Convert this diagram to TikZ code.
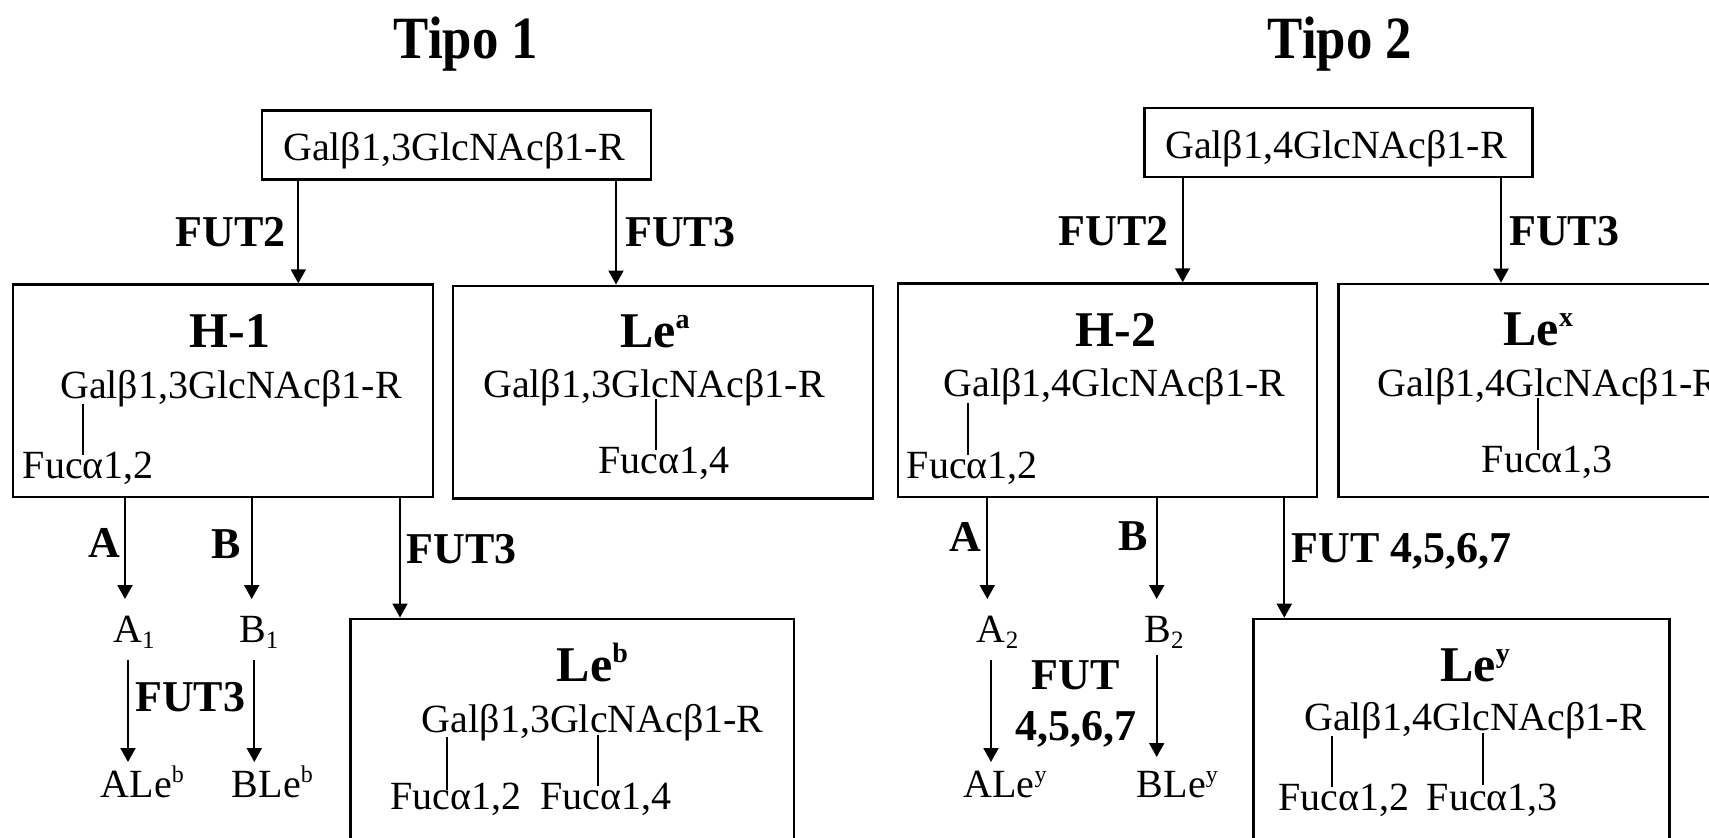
\documentclass[tikz,border=0pt]{standalone}
\usepackage{fontspec}
\setmainfont{Liberation Serif}
\usetikzlibrary{arrows.meta}
\newcommand\mysupT[1]{\raisebox{19pt}{\fontsize{28}{28}\selectfont #1}}
\newcommand\mysupR[1]{\raisebox{15pt}{\fontsize{24}{24}\selectfont #1}}
\newcommand\mysubR[1]{\raisebox{-6pt}{\fontsize{25}{25}\selectfont #1}}
\begin{document}
\begin{tikzpicture}[x=1pt,y=-1pt,
  box/.style={draw, line width=2.2pt, inner sep=0pt, anchor=north west},
  arr/.style={line width=2pt, -{Triangle[length=14pt,width=15pt]}},
  bond/.style={line width=2pt},
  reg/.style={inner sep=0pt, font=\fontsize{40}{44}\selectfont},
  lab/.style={inner sep=0pt, font=\bfseries\fontsize{44}{48}\selectfont},
  ttl/.style={inner sep=0pt, font=\bfseries\fontsize{50}{54}\selectfont},
  hdr/.style={inner sep=0pt, font=\bfseries\fontsize{60}{64}\selectfont, xscale=0.88}]
\useasboundingbox (0,0) rectangle (1709,838);

% ---------------- Tipo 1 ----------------
\node[hdr, anchor=base] (tipo1) at (466,58) {Tipo 1};
\node[box, minimum width=389.3pt, minimum height=69pt] (t1) at (260.7,109.3) {};
\node[reg, anchor=base west] (t1txt) at (283,160) {Galβ1,3GlcNAcβ1-R};

\node[box, minimum width=419.7pt, minimum height=212.7pt] (h1) at (12,283.3) {};
\node[box, minimum width=420pt, minimum height=212.8pt] (lea) at (451.7,284.5) {};
\node[box, minimum width=443.4pt, minimum height=300pt] (leb) at (349.3,617.5) {};

\coordinate (x1) at (298.3,0);
\coordinate (x2) at (616,0);
\coordinate (x3) at (400,0);
\draw[arr] (t1.south -| x1) -- (h1.north -| x1);
\draw[arr] (t1.south -| x2) -- (lea.north -| x2);
\node[lab, anchor=base east] (fut2a) at (286,246) {FUT2};
\node[lab, anchor=base west] (fut3a) at (625,246) {FUT3};

\node[ttl, anchor=base] (h1t) at (230,347) {H-1};
\node[reg, anchor=base west] (h1g) at (60,398) {Galβ1,3GlcNAcβ1-R};
\node[reg, anchor=base west] (h1f) at (22.7,478) {Fucα1,2};
\draw[bond] (83.3,404) -- (83.3,455);

\node[ttl, anchor=base west] (leat) at (620,347) {Le\mysupT{a}};
\node[reg, anchor=base west] (leag) at (483,397) {Galβ1,3GlcNAcβ1-R};
\node[reg, anchor=base west] (leaf) at (598,473) {Fucα1,4};
\draw[bond] (656,399) -- (656,450);

\coordinate (cA1) at (125,599);
\coordinate (cB1) at (251.7,599);
\draw[arr] (h1.south -| cA1) -- (cA1);
\draw[arr] (h1.south -| cB1) -- (cB1);
\draw[arr] (h1.south -| x3) -- (leb.north -| x3);
\node[lab, anchor=base east] (labA1) at (120,557) {A};
\node[lab, anchor=base east] (labB1) at (240.7,558) {B};
\node[lab, anchor=base west] (fut3b) at (406.7,563) {FUT3};

\node[reg, anchor=base west] (A1) at (113,642) {A\mysubR{1}};
\node[reg, anchor=base west] (B1) at (239,642) {B\mysubR{1}};
\coordinate (sA1) at (128,660);
\coordinate (eA1) at (128,762);
\coordinate (sB1) at (254.3,660);
\coordinate (eB1) at (254.3,762);
\draw[arr] (sA1) -- (eA1);
\draw[arr] (sB1) -- (eB1);
\node[lab, anchor=base west] (fut3c) at (135,711) {FUT3};
\node[reg, anchor=base west] (ALeb) at (100.7,797) {ALe\mysupR{b}};
\node[reg, anchor=base west] (BLeb) at (231.7,797) {BLe\mysupR{b}};

\node[ttl, anchor=base west] (lebt) at (556.7,681) {Le\mysupT{b}};
\node[reg, anchor=base west] (lebg) at (421.7,732) {Galβ1,3GlcNAcβ1-R};
\node[reg, anchor=base west] (lebf1) at (390,809) {Fucα1,2};
\node[reg, anchor=base west] (lebf2) at (540,809) {Fucα1,4};
\draw[bond] (446.7,737) -- (446.7,790);
\draw[bond] (598.3,735) -- (598.3,786);

% ---------------- Tipo 2 ----------------
\node[hdr, anchor=base] (tipo2) at (1340,58) {Tipo 2};
\node[box, minimum width=388pt, minimum height=69pt] (t2) at (1143.3,106.7) {};
\node[reg, anchor=base west] (t2txt) at (1165,158.3) {Galβ1,4GlcNAcβ1-R};

\node[box, minimum width=419pt, minimum height=213.7pt] (h2) at (896.7,282.3) {};
\node[box, minimum width=500pt, minimum height=213.3pt] (lex) at (1337.3,282.7) {};
\node[box, minimum width=416pt, minimum height=300pt] (ley) at (1252.3,617.7) {};

\coordinate (x4) at (1182.7,0);
\coordinate (x5) at (1501,0);
\coordinate (x6) at (1284.3,0);
\draw[arr] (t2.south -| x4) -- (h2.north -| x4);
\draw[arr] (t2.south -| x5) -- (lex.north -| x5);
\node[lab, anchor=base east] (fut2b) at (1169,245) {FUT2};
\node[lab, anchor=base west] (fut3d) at (1509,245) {FUT3};

\node[ttl, anchor=base] (h2t) at (1116,346.7) {H-2};
\node[reg, anchor=base west] (h2g) at (943.3,396) {Galβ1,4GlcNAcβ1-R};
\node[reg, anchor=base west] (h2f) at (906.7,478.3) {Fucα1,2};
\draw[bond] (968.3,403) -- (968.3,455);

\node[ttl, anchor=base west] (lext) at (1503.3,345) {Le\mysupT{x}};
\node[reg, anchor=base west] (lexg) at (1377.3,396) {Galβ1,4GlcNAcβ1-R};
\node[reg, anchor=base west] (lexf) at (1481.7,472.3) {Fucα1,3};
\draw[bond] (1538.3,398) -- (1538.3,450);

\coordinate (cA2) at (987.3,599);
\coordinate (cB2) at (1156.7,599);
\draw[arr] (h2.south -| cA2) -- (cA2);
\draw[arr] (h2.south -| cB2) -- (cB2);
\draw[arr] (h2.south -| x6) -- (ley.north -| x6);
\node[lab, anchor=base east] (labA2) at (981.7,551.7) {A};
\node[lab, anchor=base east] (labB2) at (1148.3,550.7) {B};
\node[lab, anchor=base west] (fut4a) at (1291.7,562.7) {FUT 4,5,6,7};

\node[reg, anchor=base west] (A2) at (976.7,642) {A\mysubR{2}};
\node[reg, anchor=base west] (B2) at (1144.3,642) {B\mysubR{2}};
\coordinate (sA2) at (991,660);
\coordinate (eA2) at (991,762);
\coordinate (sB2) at (1156.7,655);
\coordinate (eB2) at (1156.7,757);
\draw[arr] (sA2) -- (eA2);
\draw[arr] (sB2) -- (eB2);
\node[lab, anchor=base] (fut4b) at (1075.5,689) {FUT};
\node[lab, anchor=base] (fut4c) at (1075.8,740) {4,5,6,7};
\node[reg, anchor=base west] (ALey) at (963.3,797) {ALe\mysupR{y}};
\node[reg, anchor=base west] (BLey) at (1136.7,797) {BLe\mysupR{y}};

\node[ttl, anchor=base west] (leyt) at (1440,681) {Le\mysupT{y}};
\node[reg, anchor=base west] (leyg) at (1304,730.7) {Galβ1,4GlcNAcβ1-R};
\node[reg, anchor=base west] (leyf1) at (1278.3,810) {Fucα1,2};
\node[reg, anchor=base west] (leyf2) at (1426.7,810) {Fucα1,3};
\draw[bond] (1332.3,736) -- (1332.3,787);
\draw[bond] (1483.3,733) -- (1483.3,785);
\end{tikzpicture}
\end{document}
